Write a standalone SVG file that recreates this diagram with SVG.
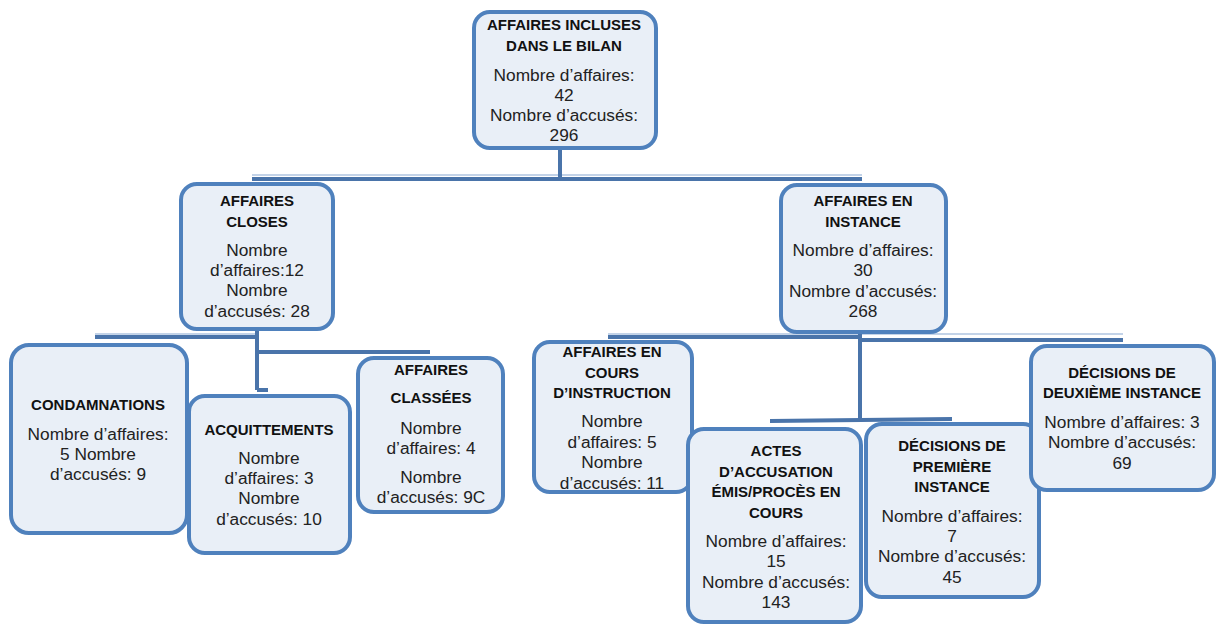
<svg xmlns="http://www.w3.org/2000/svg" width="1217" height="624" viewBox="0 0 1217 624">
<style>
.box{fill:#e9eff7;stroke:#4f81bd;stroke-width:4}
.c{fill:none;stroke:#4a74aa;stroke-width:4}
.cl{fill:none;stroke:#c3d3e8;stroke-width:2}
text{font-family:"Liberation Sans",Arial,sans-serif;text-anchor:middle;fill:#111111}
.t{font-weight:bold;font-size:15px}
.b{font-size:17.3px;fill:#222222}
</style>
<rect width="1217" height="624" fill="#ffffff"/>
<g id="connectors">
<line class="cl" x1="252" y1="175" x2="862" y2="175"/>
<line class="c" x1="560" y1="148" x2="560" y2="179"/>
<line class="c" x1="252" y1="179" x2="862" y2="179"/>
<line class="cl" x1="95" y1="334" x2="257" y2="334"/>
<line class="c" x1="257" y1="330" x2="257" y2="390"/>
<line class="c" x1="95" y1="337" x2="257" y2="337"/>
<line class="c" x1="257" y1="352" x2="430" y2="352"/>
<line class="c" x1="257" y1="390" x2="268" y2="390"/>
<line class="cl" x1="608" y1="334" x2="1123" y2="334"/>
<line class="c" x1="860" y1="333" x2="860" y2="421"/>
<line class="c" x1="608" y1="337" x2="860" y2="337"/>
<line class="c" x1="860" y1="340" x2="1123" y2="340"/>
<line class="c" x1="770" y1="421" x2="952" y2="419"/>
</g>
<g id="n-top">
<rect class="box" x="474" y="12" width="182" height="136" rx="16"/>
<text class="t" x="564" y="30">AFFAIRES INCLUSES</text>
<text class="t" x="564" y="51">DANS LE BILAN</text>
<text class="b" x="564" y="81">Nombre d’affaires:</text>
<text class="b" x="564" y="101">42</text>
<text class="b" x="564" y="121">Nombre d’accusés:</text>
<text class="b" x="564" y="141">296</text>
</g>
<g id="n-closes">
<rect class="box" x="181" y="184" width="152" height="145" rx="16"/>
<text class="t" x="257" y="206">AFFAIRES</text>
<text class="t" x="257" y="227">CLOSES</text>
<text class="b" x="257" y="256">Nombre</text>
<text class="b" x="257" y="276">d’affaires:12</text>
<text class="b" x="257" y="296">Nombre</text>
<text class="b" x="257" y="317">d’accusés: 28</text>
</g>
<g id="n-instance">
<rect class="box" x="781" y="185" width="165" height="147" rx="16"/>
<text class="t" x="863" y="206">AFFAIRES EN</text>
<text class="t" x="863" y="227">INSTANCE</text>
<text class="b" x="863" y="256">Nombre d’affaires:</text>
<text class="b" x="863" y="276">30</text>
<text class="b" x="863" y="297">Nombre d’accusés:</text>
<text class="b" x="863" y="317">268</text>
</g>
<g id="n-condamnations">
<rect class="box" x="11" y="345" width="176" height="188" rx="18"/>
<text class="t" x="98" y="410">CONDAMNATIONS</text>
<text class="b" x="98" y="440">Nombre d’affaires:</text>
<text class="b" x="98" y="460">5 Nombre</text>
<text class="b" x="98" y="480">d’accusés: 9</text>
</g>
<g id="n-acquittements">
<rect class="box" x="189" y="396" width="161" height="157" rx="16"/>
<text class="t" x="269" y="435">ACQUITTEMENTS</text>
<text class="b" x="269" y="464">Nombre</text>
<text class="b" x="269" y="484">d’affaires: 3</text>
<text class="b" x="269" y="504">Nombre</text>
<text class="b" x="269" y="525">d’accusés: 10</text>
</g>
<g id="n-classees">
<rect class="box" x="358" y="358" width="145" height="154" rx="16"/>
<text class="t" x="431" y="375">AFFAIRES</text>
<text class="t" x="431" y="403">CLASSÉES</text>
<text class="b" x="431" y="434">Nombre</text>
<text class="b" x="431" y="454">d’affaires: 4</text>
<text class="b" x="431" y="483">Nombre</text>
<text class="b" x="431" y="503">d’accusés: 9C</text>
</g>
<g id="n-instruction">
<rect class="box" x="534" y="342" width="158" height="150" rx="16"/>
<text class="t" x="612" y="357">AFFAIRES EN</text>
<text class="t" x="612" y="378">COURS</text>
<text class="t" x="612" y="398">D’INSTRUCTION</text>
<text class="b" x="612" y="427">Nombre</text>
<text class="b" x="612" y="448">d’affaires: 5</text>
<text class="b" x="612" y="468">Nombre</text>
<text class="b" x="612" y="489">d’accusés: 11</text>
</g>
<g id="n-actes">
<rect class="box" x="688" y="429" width="173" height="193" rx="16"/>
<text class="t" x="776" y="456">ACTES</text>
<text class="t" x="776" y="477">D’ACCUSATION</text>
<text class="t" x="776" y="497">ÉMIS/PROCÈS EN</text>
<text class="t" x="776" y="518">COURS</text>
<text class="b" x="776" y="547">Nombre d’affaires:</text>
<text class="b" x="776" y="567">15</text>
<text class="b" x="776" y="588">Nombre d’accusés:</text>
<text class="b" x="776" y="608">143</text>
</g>
<g id="n-premiere">
<rect class="box" x="866" y="424" width="173" height="173" rx="16"/>
<text class="t" x="952" y="451">DÉCISIONS DE</text>
<text class="t" x="952" y="472">PREMIÈRE</text>
<text class="t" x="952" y="492">INSTANCE</text>
<text class="b" x="952" y="522">Nombre d’affaires:</text>
<text class="b" x="952" y="542">7</text>
<text class="b" x="952" y="562">Nombre d’accusés:</text>
<text class="b" x="952" y="583">45</text>
</g>
<g id="n-deuxieme">
<rect class="box" x="1031" y="346" width="183" height="144" rx="16"/>
<text class="t" x="1122" y="378">DÉCISIONS DE</text>
<text class="t" x="1122" y="398">DEUXIÈME INSTANCE</text>
<text class="b" x="1122" y="428">Nombre d’affaires: 3</text>
<text class="b" x="1122" y="448">Nombre d’accusés:</text>
<text class="b" x="1122" y="469">69</text>
</g>
</svg>
